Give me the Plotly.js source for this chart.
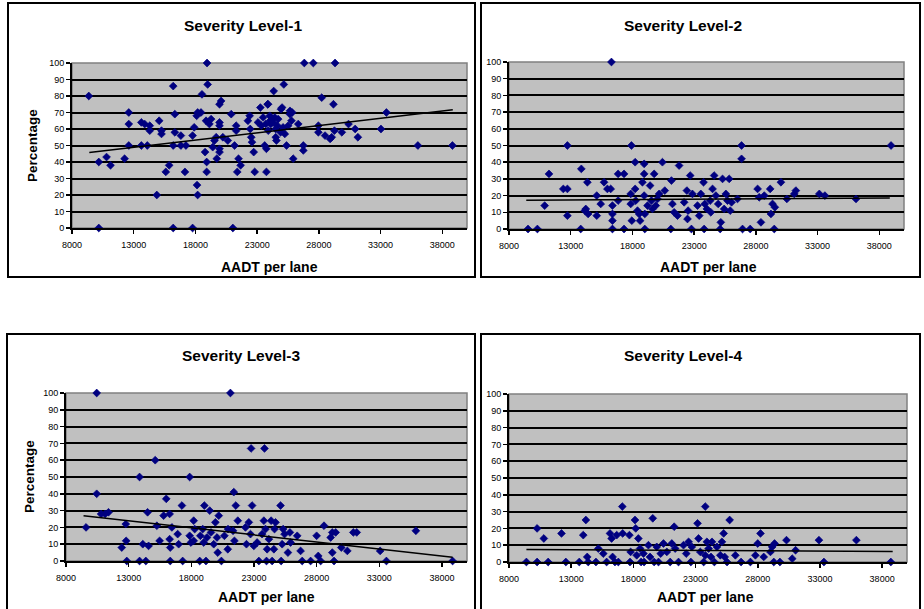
<!DOCTYPE html>
<html>
<head>
<meta charset="utf-8">
<script src="https://cdn.plot.ly/plotly-3.0.1.min.js"></script>
<style>
  html, body { margin: 0; padding: 0; background: #ffffff; }
  #chart { width: 924px; height: 609px; }
</style>
</head>
<body>
<div id="chart"></div>
<script>
// Share of crashes per severity level against AADT per lane, one panel per level.
const panelTitles = ['Severity Level-1', 'Severity Level-2', 'Severity Level-3', 'Severity Level-4'];
const xTitle = 'AADT per lane';
const yTitle = 'Percentage';
const gridValues = [10, 20, 30, 40, 50, 60, 70, 80, 90];

// Severity level 1
const aadt1 = [9360,10170,10170,10800,11120,12260,12600,12600,12600,13620,13890,14300,14300,13620,14100,14870,15060,15250,15250,15600,15870,16200,16330,16200,16330,16200,16820,16820,17230,17150,17770,17770,17900,18130,18180,18100,18180,18530,18450,18780,18910,18910,18940,18990,18860,19130,19270,19400,19540,19680,19730,19950,19950,19950,20080,19950,19950,20220,20620,20900,21030,21170,21300,21390,21490,21660,21300,22250,22390,22440,22520,22580,22720,22800,23070,23260,23340,23480,23610,23750,23750,23880,24020,24100,24340,24430,24510,24560,24640,25020,25160,25240,25380,25510,25650,25780,25840,25920,26330,26740,26740,26820,27550,27960,27960,28230,28500,28910,29040,29180,29260,29310,29860,30400,30940,31160,33030,33470,36020,38820,23850,24180,24930,25660,23700,24050,24500,24900,25100,23900,24300,24700];
const pct1  = [80,40,0,43,38,42,63,70,50,64,63,62,59,50,50,20,65,59,57,34,38,50,58,86,69,0,56,50,50,34,0,56,61,26,20,68,70,81,70,46,40,34,100,87,65,63,66,49,53,55,42,46,48,75,77,64,62,55,53,69,0,50,62,34,42,38,59,65,68,60,55,52,46,34,64,73,62,67,50,48,34,75,68,63,83,67,55,53,62,73,87,57,50,62,69,65,70,42,63,50,47,100,100,62,58,79,56,54,55,75,59,100,58,63,60,55,60,70,50,50,75,66,72,71,63,65,60,58,61,59,64,66];

// Severity level 2
const aadt2 = [9540,10300,10890,11240,12400,12730,12730,12730,13810,13860,14220,14350,14410,14140,15110,15110,15430,15700,15970,16240,16300,16380,16380,16380,16380,16840,16840,17320,17320,17920,17860,17950,17860,18220,18220,18270,18410,18620,18540,18810,18950,18950,18950,19000,19000,19220,19430,19540,19620,19760,19890,20030,20160,20430,20620,21110,21160,21240,21380,21650,21780,22190,22410,22460,22510,22680,22780,22860,23270,23410,23540,23760,23810,23860,24030,24300,24350,24490,24620,24760,24950,25110,25160,25300,25430,25570,25700,25840,25920,26030,26510,26840,26840,26920,27540,28140,28270,28410,28680,29160,29220,29350,29490,29540,30030,30510,31110,31240,33140,33590,36110,38950];
const pct2  = [0,0,14,33,24,24,50,8,0,36,12,28,9,11,8,20,15,28,24,24,100,14,9,5,0,33,17,33,0,50,21,5,15,40,24,17,11,5,9,28,20,33,39,0,9,14,26,17,12,33,14,18,21,40,23,0,29,15,10,8,38,16,23,6,11,32,0,21,14,8,21,28,0,15,12,17,10,24,32,20,15,0,4,30,12,21,17,30,11,16,18,50,42,0,0,24,19,4,20,24,9,15,0,13,28,18,21,23,21,20,18,50];

// Severity level 3
const aadt3 = [9600,10450,10450,10800,11120,11390,12450,12770,12800,12850,13870,13870,14130,14370,14510,14590,15120,15250,15470,15790,16000,16270,16270,16320,16320,16450,16910,16990,17250,17310,17870,17870,17970,18190,18270,18190,18670,18720,18910,19040,18990,19170,19250,19470,19570,19790,19920,20050,20110,20190,20400,20640,20910,20930,21120,21330,21390,21440,21550,21710,22320,22400,22590,22720,22770,22850,22990,23250,23390,23650,23790,23840,23920,24000,24050,24190,24370,24450,24590,24640,24720,25120,25170,25250,25330,25440,25710,25870,25920,26450,26720,26850,27520,28000,28130,28320,28590,29120,29250,29250,29390,29520,29970,30450,30930,31200,33070,33570,35920,38850];
const pct3  = [20,100,40,28,28,29,8,22,12,0,50,0,10,0,29,9,60,21,12,27,37,28,13,8,0,20,16,10,33,0,50,15,11,24,19,12,0,15,19,33,11,0,14,30,17,10,23,14,5,27,0,15,7,19,100,18,41,12,33,24,20,10,23,16,67,33,9,11,0,16,24,67,19,0,7,13,24,0,7,19,23,33,0,10,19,16,5,17,11,15,6,0,0,15,3,0,21,14,17,5,0,17,8,6,17,17,6,0,18,0];

// Severity level 4
const aadt4 = [9400,10260,10260,10800,11150,12220,12570,13650,13970,14180,14290,14370,14990,15180,15580,15850,16120,16250,16330,16520,16660,16790,17110,17140,17680,17730,17780,18130,18190,18270,18400,18540,18620,18810,18860,19210,19340,19560,19670,19880,20020,20200,20420,20690,20960,21090,21280,21360,21630,22030,22250,22440,22620,22700,23160,23240,23380,23650,23780,23780,23910,24050,24240,24320,24510,24720,24990,25120,25260,25340,25530,25740,26200,26660,27410,27810,28000,28220,28480,29020,29160,29290,29350,29780,30310,30770,31040,32920,33320,35930,38700];
const pct4  = [0,20,0,14,0,17,0,0,16,25,3,0,0,8,5,0,17,14,3,0,16,0,33,17,16,0,6,25,20,4,14,8,0,5,0,10,3,26,0,9,0,5,11,6,0,11,21,8,0,10,5,12,0,9,23,14,6,0,33,4,12,8,3,12,0,9,4,12,17,3,0,25,4,0,0,4,11,17,3,6,9,0,11,0,13,2,7,13,0,13,0];

// Fitted linear trend lines, drawn between the smallest and largest AADT
const trendAadt = [9400, 38850];
const trend1 = [45.7, 71.7];
const trend2 = [17.2, 18.6];
const trend3 = [27.0, 2.2];
const trend4 = [7.5, 6.3];

const seriesX = [aadt1, aadt2, aadt3, aadt4];
const seriesY = [pct1, pct2, pct3, pct4];
const trendY = [trend1, trend2, trend3, trend4];

const W = 924, H = 609;
const FONT = 'Arial, "Liberation Sans", sans-serif';
const px = v => v / W;
const py = v => 1 - v / H;

// plot-area rectangles in page pixels: [left, right, top, bottom]
const areas = [
  [72, 467, 63, 228],
  [509, 904, 62, 229],
  [66, 467, 393, 561],
  [509, 907, 394, 562]
];

const traces = [];
const layout = {
  width: W, height: H,
  margin: {l: 0, r: 0, t: 0, b: 0},
  paper_bgcolor: '#ffffff',
  plot_bgcolor: '#C0C0C0',
  showlegend: false,
  font: {family: FONT, color: '#000000'},
  annotations: [],
  shapes: []
};

for (let i = 0; i < 4; i++) {
  const n = i === 0 ? '' : String(i + 1);
  const g = String(i + 5);          // overlay axis that carries the gridlines
  const [l, r, t, b] = areas[i];
  traces.push({
    type: 'scatter', mode: 'markers',
    x: seriesX[i], y: seriesY[i],
    xaxis: 'x' + n, yaxis: 'y' + n,
    cliponaxis: false,
    marker: {symbol: 'diamond', size: 6, color: '#000080', line: {width: 0.7, color: '#000080'}},
    hoverinfo: 'x+y'
  });
  traces.push({
    type: 'scatter', mode: 'lines',
    x: trendAadt, y: trendY[i],
    xaxis: 'x' + n, yaxis: 'y' + g,
    line: {color: '#000000', width: 1.5}
  });
  layout['xaxis' + n] = {
    domain: [px(l), px(r)], anchor: 'y' + n,
    range: [8000, 40000], tick0: 8000, dtick: 5000, tickformat: 'd',
    showgrid: false, zeroline: false,
    showline: true, linecolor: '#000000', linewidth: 2,
    ticks: 'outside', ticklen: 4, tickwidth: 1.5, tickcolor: '#000000',
    ticklabelstandoff: 3,
    tickfont: {family: FONT, size: 9, color: '#000000'}
  };
  layout['yaxis' + n] = {
    domain: [py(b), py(t)], anchor: 'x' + n,
    range: [0, 100], tick0: 0, dtick: 10,
    showgrid: false, zeroline: false,
    showline: true, linecolor: '#000000', linewidth: 2,
    ticks: 'outside', ticklen: 4, tickwidth: 1.5, tickcolor: '#000000',
    tickfont: {family: FONT, size: 9, color: '#000000'}
  };
  layout['yaxis' + g] = {
    overlaying: 'y' + n, anchor: 'x' + n, side: 'left',
    range: [0, 100], tickvals: gridValues,
    showgrid: true, gridcolor: '#000000', gridwidth: 2, zeroline: false,
    showline: false, ticks: '', showticklabels: false
  };
  // grey plot-area frame
  layout.shapes.push({
    type: 'rect', xref: 'x' + n + ' domain', yref: 'y' + n + ' domain',
    x0: 0, x1: 1, y0: 0, y1: 1,
    line: {color: '#808080', width: 1.5}, layer: 'below'
  });
}

// chart frames
const frames = [
  [8, 475, 3, 277],
  [481, 920, 3, 277],
  [7, 475, 334, 640],
  [481, 920, 334, 640]
];
frames.forEach(([l, r, t, b]) => {
  layout.shapes.push({
    type: 'rect', xref: 'paper', yref: 'paper',
    x0: px(l), x1: px(r), y0: py(b), y1: py(t),
    line: {color: '#000000', width: 2}, layer: 'above'
  });
});

// titles
const titlePos = [[243, 26], [683, 26], [241, 356], [683, 356]];
const xTitlePos = [[269, 267], [708, 267], [266, 597], [705, 597]];
const yTitlePos = [[32, 146], null, [29, 477], null];
for (let i = 0; i < 4; i++) {
  layout.annotations.push({
    xref: 'paper', yref: 'paper', x: px(titlePos[i][0]), y: py(titlePos[i][1]),
    xanchor: 'center', yanchor: 'middle', showarrow: false,
    text: '<b>' + panelTitles[i] + '</b>',
    font: {family: FONT, size: 15.5, color: '#000000'}
  });
  layout.annotations.push({
    xref: 'paper', yref: 'paper', x: px(xTitlePos[i][0]), y: py(xTitlePos[i][1]),
    xanchor: 'center', yanchor: 'middle', showarrow: false,
    text: '<b>' + xTitle + '</b>',
    font: {family: FONT, size: 14, color: '#000000'}
  });
  if (yTitlePos[i]) {
    layout.annotations.push({
      xref: 'paper', yref: 'paper', x: px(yTitlePos[i][0]), y: py(yTitlePos[i][1]),
      xanchor: 'center', yanchor: 'middle', showarrow: false, textangle: -90,
      text: '<b>' + yTitle + '</b>',
      font: {family: FONT, size: 13.5, color: '#000000'}
    });
  }
}

Plotly.newPlot('chart', traces, layout, {displayModeBar: false, staticPlot: true});
</script>
</body>
</html>
